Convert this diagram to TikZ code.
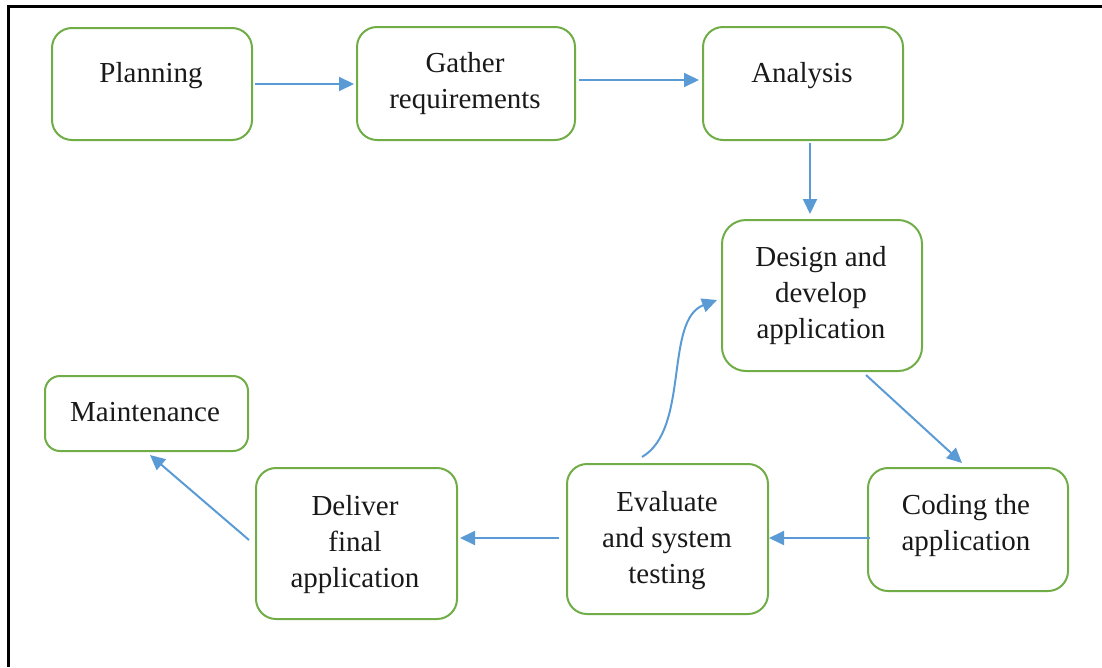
\documentclass[tikz,border=0pt]{standalone}
\usepackage{fontspec}
\setmainfont{Liberation Serif}
\usetikzlibrary{arrows.meta}
\definecolor{boxgreen}{HTML}{70AD47}
\definecolor{arrblue}{HTML}{5B9BD5}
\begin{document}
\begin{tikzpicture}[x=1pt,y=-1pt,
  box/.style={draw=boxgreen, line width=2pt, rounded corners=20pt, inner sep=0pt},
  txt/.style={font=\fontsize{29}{36}\selectfont, align=center, inner sep=0pt, text=black!90},
  arr/.style={draw=arrblue, line width=2pt, -{Triangle[length=15pt,width=14pt]}}]
\useasboundingbox (0,0) rectangle (1102,667);
\draw[line width=3pt] (1102,6) -- (8,6) -- (8,667);

% boxes
\node[box, minimum width=200pt, minimum height=112pt] (plan) at (152,84) {};
\node[box, minimum width=218pt, minimum height=113pt] (gather) at (466,83.5) {};
\node[box, minimum width=200pt, minimum height=113pt] (ana) at (803,83.5) {};
\node[box, minimum width=200pt, minimum height=151pt, rounded corners=24pt] (design) at (822,295.5) {};
\node[box, minimum width=200pt, minimum height=123pt] (coding) at (968,529.5) {};
\node[box, minimum width=201pt, minimum height=150pt] (eval) at (667.5,539) {};
\node[box, minimum width=201pt, minimum height=151pt] (deliver) at (356.5,543.5) {};
\node[box, minimum width=203pt, minimum height=75pt, rounded corners=15pt] (maint) at (146.5,413.5) {};

% texts
\node[txt] (plant) at (151,76) {Planning};
\node[txt] (gathert) at (465,84) {Gather\\requirements};
\node[txt] (anat) at (802,76) {Analysis};
\node[txt] (designt) at (821,296) {Design and\\develop\\application};
\node[txt] (codingt) at (966,526) {Coding the\\application};
\node[txt] (evalt) at (667,541) {Evaluate\\and system\\testing};
\node[txt] (delivert) at (355,545) {Deliver\\final\\application};
\node[txt] (maintt) at (145,412) {Maintenance};

% connectors
\draw[arr] ([xshift=2pt]plan.east) -- ([xshift=-2pt,yshift=-0.5pt]gather.west);
\draw[arr] ([xshift=3pt,yshift=3.5pt]gather.east) -- ([xshift=-3pt,yshift=3.5pt]ana.west);
\draw[arr] ([xshift=7pt,yshift=-2pt]ana.south) -- ([xshift=-12pt,yshift=5pt]design.north);
\draw[arr] ([xshift=44pt,yshift=-3pt]design.south) -- ([xshift=-6pt,yshift=4pt]coding.north);
\draw[arr] ([xshift=3pt,yshift=-8.5pt]coding.west) -- ([yshift=1pt]eval.east);
\draw[arr] ([xshift=-7pt,yshift=1pt]eval.west) -- ([xshift=2pt,yshift=5.5pt]deliver.east);
\draw[arr] ([xshift=-6pt,yshift=3.5pt]deliver.west) -- ([xshift=3.5pt,yshift=-3pt]maint.south);
\draw[arr] ([xshift=-25.5pt,yshift=6pt]eval.north) .. controls +(48,-28) and +(-53,20) .. ([xshift=-4pt,yshift=-4.5pt]design.west);
\end{tikzpicture}
\end{document}
